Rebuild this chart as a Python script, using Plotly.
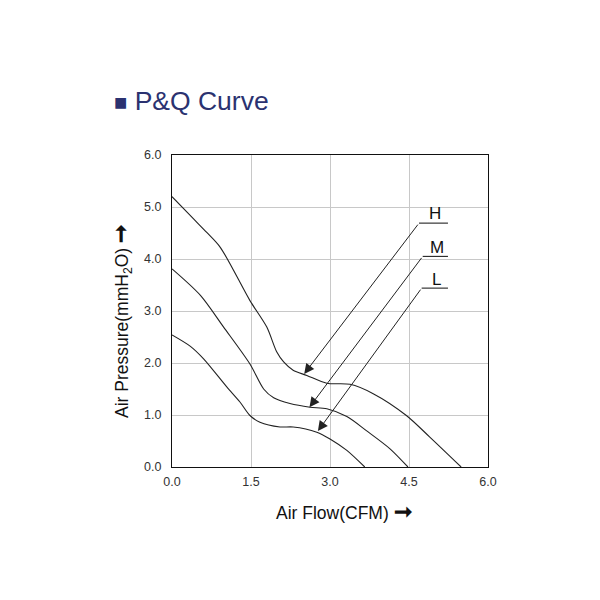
import plotly.graph_objects as go

h_x = [0.0, 0.41, 0.66, 0.92, 1.48, 1.80, 1.99, 2.12, 2.30, 2.56, 2.94, 3.38, 3.82, 4.45, 4.89, 5.49]
h_y = [5.20, 4.77, 4.51, 4.22, 3.20, 2.69, 2.21, 2.02, 1.86, 1.76, 1.61, 1.59, 1.41, 0.99, 0.58, 0.0]

m_x = [0.0, 0.54, 0.98, 1.48, 1.74, 1.93, 2.24, 2.62, 2.94, 3.32, 3.69, 4.14, 4.48]
m_y = [3.81, 3.30, 2.69, 1.98, 1.50, 1.33, 1.22, 1.15, 1.12, 0.97, 0.70, 0.35, 0.0]

l_x = [0.0, 0.35, 0.60, 1.04, 1.29, 1.48, 1.67, 2.05, 2.30, 2.75, 3.00, 3.32, 3.66]
l_y = [2.54, 2.32, 2.08, 1.54, 1.25, 0.99, 0.86, 0.77, 0.77, 0.67, 0.54, 0.32, 0.0]

labels = ["H", "M", "L"]
label_line_x0 = [4.69, 4.76, 4.74]
label_line_x1 = [5.24, 5.24, 5.24]
label_line_y = [4.69, 4.05, 3.44]
arrow_tip_x = [2.51, 2.61, 2.77]
arrow_tip_y = [1.79, 1.15, 0.69]
label_text_y = [4.87, 4.23, 3.61]

x_ticks = [0.0, 1.5, 3.0, 4.5, 6.0]
y_ticks = [0.0, 1.0, 2.0, 3.0, 4.0, 5.0, 6.0]

x_title = "Air Flow(CFM) <span style='font-size:22px'><b>➞</b></span>"
y_title = "Air Pressure(mmH<sub>2</sub>O) <span style='font-size:22px'><b>➞</b></span>"
chart_title = "<span style='font-size:22px'>■</span> P&Q Curve"

FONT = "Liberation Sans, Arial"

fig = go.Figure()
for xs, ys in [(h_x, h_y), (m_x, m_y), (l_x, l_y)]:
    fig.add_trace(go.Scatter(x=xs, y=ys, mode="lines",
                             line=dict(color="#222222", width=1.1, shape="spline", smoothing=0.8),
                             showlegend=False, hoverinfo="skip"))

for i, lab in enumerate(labels):
    fig.add_trace(go.Scatter(x=[label_line_x0[i], label_line_x1[i]], y=[label_line_y[i], label_line_y[i]],
                             mode="lines", line=dict(color="#222222", width=1.1),
                             showlegend=False, hoverinfo="skip"))
    fig.add_annotation(x=arrow_tip_x[i], y=arrow_tip_y[i], ax=label_line_x0[i], ay=label_line_y[i],
                       xref="x", yref="y", axref="x", ayref="y", text="", showarrow=True,
                       arrowhead=2, arrowsize=2, arrowwidth=1, arrowcolor="#222222")
    fig.add_annotation(x=(label_line_x0[i] + label_line_x1[i]) / 2 + 0.03, y=label_text_y[i],
                       xref="x", yref="y", text=lab, showarrow=False,
                       font=dict(family=FONT, size=17, color="#111111"),
                       yanchor="middle")

fig.add_annotation(x=-0.19, y=1.173, xref="paper", yref="paper", xanchor="left", yanchor="middle",
                   text=chart_title, showarrow=False,
                   font=dict(family=FONT, size=26.5, color="#2b3270"))

fig.add_annotation(x=0.544, y=-0.144, xref="paper", yref="paper", xanchor="center", yanchor="middle",
                   text=x_title, showarrow=False,
                   font=dict(family=FONT, size=17.5, color="#111111"))
fig.add_annotation(x=-0.158, y=0.465, xref="paper", yref="paper", xanchor="center", yanchor="middle",
                   text=y_title, showarrow=False, textangle=-90,
                   font=dict(family=FONT, size=17.5, color="#111111"))

axis_common = dict(showgrid=True, gridcolor="#c8c8c8", gridwidth=1.2, zeroline=False,
                   showline=True, linecolor="#111111", linewidth=1.2, mirror=True,
                   ticks="", tickfont=dict(family=FONT, size=12.5, color="#333333"))

fig.update_xaxes(range=[0, 6], tickvals=x_ticks, ticktext=[f"{v:.1f}" for v in x_ticks],
                 ticklabelstandoff=3, **axis_common)
fig.update_yaxes(range=[0, 6], tickvals=y_ticks, ticktext=[f"{v:.1f}" for v in y_ticks],
                 ticklabelstandoff=7, **axis_common)

fig.update_layout(width=600, height=600, margin=dict(l=164, r=120, t=147, b=141),
                  paper_bgcolor="white", plot_bgcolor="white")

fig.write_html("out.html")
